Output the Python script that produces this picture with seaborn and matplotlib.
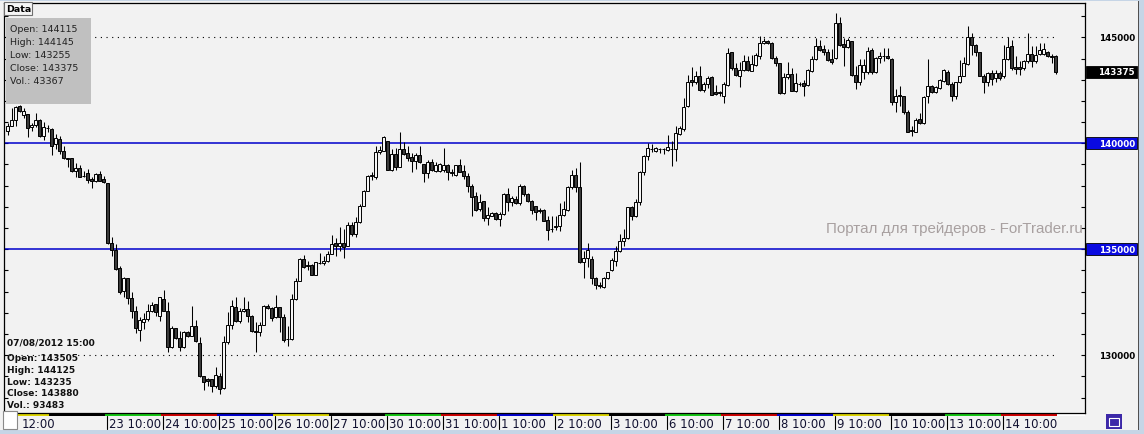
import numpy as np
import pandas as pd
import matplotlib
matplotlib.use("Agg")
import matplotlib.pyplot as plt
import matplotlib.transforms as mtrans
from matplotlib.patches import Rectangle
import seaborn as sns

# ---------------- data (hourly candles, RTS futures) ----------------
opens = [
    140597, 140833, 141100, 141744, 141351, 141383, 140785, 140864, 141100, 140361,
    140707, 140675, 139968, 140204, 139622, 139292, 139292, 138710, 138836, 138459,
    138585, 138317, 138207, 138553, 138317, 138113, 135283, 134982, 134118, 133049,
    133646, 132703, 132074, 131210, 131555, 131713, 132074, 132420, 131838, 132656,
    132074, 130376, 131288, 130801, 130376, 131084, 130927, 131398, 130565, 129009,
    128883, 128883, 128569, 129040, 128443, 130612, 131445, 132263, 131603, 132074,
    132184, 131838, 131162, 131084, 131445, 132341, 132232, 131791, 132263, 131791,
    130754, 130769, 132656, 133520, 134544, 134246, 134277, 133806, 134356, 134340,
    134466, 134780, 135283, 135173, 135283, 135173, 136148, 135723, 136274, 137028,
    137767, 138443, 138396, 139575, 139653, 140094, 138757, 139496, 138899, 139732,
    139528, 139339, 139182, 139449, 139009, 138600, 139135, 138710, 138710, 138757,
    138977, 138663, 138506, 138977, 138710, 138443, 137971, 137531, 136902, 137264,
    136462, 136588, 136698, 136431, 136667, 137610, 137248, 137374, 137170, 137971,
    137610, 137264, 137028, 136855, 136855, 136384, 135959, 136054, 136085, 136620,
    136871, 137924, 138506, 137924, 134387, 134576, 134544, 133633, 133302, 133239,
    133633, 134026, 134466, 134906, 135409, 135519, 136981, 136557, 137248, 138663,
    139417, 139717, 139654, 139749, 139733, 139702, 139749, 139733, 140440, 140677,
    141745, 142987, 142908, 143191, 142531, 142783, 143113, 142437, 142405, 142248,
    142767, 144292, 143537, 143191, 143474, 143867, 143427, 143694, 144103, 144716,
    144811, 144732, 144009, 143773, 142374, 143113, 143270, 142484, 142798, 142846,
    142751, 143427, 143977, 144575, 144449, 144323, 143977, 144009, 145675, 144685,
    144528, 144811, 143223, 142908, 143380, 143380, 144402, 143348, 144009, 144103,
    144103, 143977, 141965, 142280, 142217, 141462, 140629, 140550, 141148, 140943,
    142217, 142688, 142437, 142594, 142956, 143348, 142798, 142248, 142877, 143191,
    143742, 144999, 144638, 144292, 143160, 142908, 143317, 143066, 143317, 143160,
    143977, 144575, 143584, 143584, 143553, 143899, 144213, 143899, 144213, 144213,
    144323, 144119, 144115,
]
highs = [
    140943, 141650, 141776, 141807, 141666, 141383, 140943, 141414, 141147, 140990,
    140864, 140707, 140440, 140361, 139889, 139292, 139292, 139056, 138993, 138679,
    138805, 138396, 138600, 138710, 138474, 138113, 135598, 135250, 134228, 133709,
    133646, 133002, 132310, 131791, 131980, 132420, 132530, 132420, 132766, 133096,
    132530, 131398, 131288, 131162, 131162, 131162, 132310, 131666, 130848, 129009,
    128914, 128883, 129433, 129166, 130927, 132027, 132624, 132735, 132232, 132735,
    132577, 131901, 131587, 131555, 132373, 132420, 132263, 132844, 132263, 131948,
    131398, 132891, 133631, 134574, 134733, 134434, 134300, 134403, 134827, 134702,
    134937, 135676, 135519, 136038, 135959, 136274, 136305, 136510, 137138, 137814,
    138506, 138632, 139889, 139889, 140361, 140125, 139732, 139763, 140550, 140078,
    139858, 139543, 139543, 139889, 139025, 139229, 139261, 139103, 139056, 139763,
    139025, 138789, 138993, 139261, 138977, 138600, 138081, 137688, 137610, 137295,
    136981, 136745, 136777, 136777, 137641, 137877, 137500, 137531, 138081, 138034,
    137641, 137343, 137059, 136934, 136903, 136557, 136557, 136557, 137185, 137295,
    137971, 138757, 138836, 139135, 134937, 135299, 134670, 133680, 133475, 133680,
    133947, 134576, 135173, 135723, 135959, 137013, 137028, 137374, 138710, 139449,
    140015, 139968, 139812, 139780, 139780, 140393, 140126, 140802, 140834, 142123,
    143223, 143584, 143427, 143631, 142877, 143160, 143160, 142751, 142484, 142877,
    144481, 144323, 143789, 143820, 144166, 144135, 144166, 144260, 145046, 144952,
    144889, 144764, 144135, 143789, 143317, 143820, 143537, 143317, 142908, 142987,
    143506, 144135, 144952, 144889, 144638, 144449, 144449, 146147, 145943, 144952,
    144952, 144843, 143663, 143977, 143980, 144528, 144481, 144088, 144292, 144481,
    144481, 144009, 142563, 142688, 142248, 141572, 140834, 141179, 141431, 142248,
    143977, 142751, 142688, 143034, 143506, 143458, 142908, 142908, 143946, 144056,
    145549, 145204, 144685, 144323, 143270, 143380, 143474, 143474, 143427, 144638,
    144999, 144889, 144135, 143899, 143946, 145204, 144575, 144606, 144732, 144732,
    144370, 144213, 144145,
]
lows = [
    140408, 140833, 140833, 141461, 141194, 140314, 140597, 140754, 140314, 140172,
    140550, 139465, 139732, 139496, 139261, 138868, 138663, 138427, 138396, 138396,
    138113, 137893, 138160, 138239, 138129, 135250, 134700, 134039, 132892, 132734,
    132420, 131744, 131053, 130691, 131241, 131634, 132027, 131838, 131634, 132074,
    130172, 130329, 130769, 130219, 130329, 130848, 130896, 130643, 128962, 128380,
    128569, 128255, 128443, 128176, 128412, 130534, 131241, 131555, 131524, 132027,
    131587, 131084, 130141, 130927, 131430, 132184, 131634, 131744, 131084, 130612,
    130424, 130738, 132625, 133505, 134104, 134041, 133790, 133790, 134325, 134262,
    134419, 134780, 134702, 134937, 134592, 135173, 135645, 135566, 136243, 137028,
    137767, 138286, 138317, 139496, 139622, 138742, 138710, 138757, 138868, 139449,
    139182, 138663, 138789, 139072, 138191, 138364, 138710, 138632, 138663, 138663,
    138286, 138443, 138443, 138632, 138317, 137688, 136588, 136824, 136824, 136352,
    136164, 136557, 136399, 136116, 136636, 136824, 137059, 137138, 137091, 137531,
    137217, 136667, 136399, 136714, 136336, 135456, 135834, 135928, 135880, 136588,
    136824, 137846, 137720, 134356, 133648, 134151, 133365, 133129, 133161, 133161,
    133600, 133995, 134199, 134890, 135173, 135488, 136399, 136525, 137091, 138506,
    139229, 139606, 139607, 139544, 139497, 139654, 138947, 139183, 140393, 140598,
    141698, 142688, 142798, 142484, 142437, 142594, 142280, 142280, 142248, 141887,
    142688, 143474, 143160, 142641, 143427, 143427, 143411, 143631, 143977, 144685,
    144685, 143977, 143663, 142327, 142327, 143034, 142453, 142437, 142720, 142248,
    142688, 143380, 143946, 144370, 144166, 143899, 143726, 143977, 144606, 143663,
    144496, 143191, 142563, 142751, 143050, 143270, 143270, 143317, 143789, 143899,
    143977, 141808, 141462, 141777, 141384, 140519, 140362, 140519, 140912, 140912,
    141903, 142374, 142374, 142563, 142908, 142751, 142012, 142091, 142846, 143160,
    143711, 144166, 144135, 143160, 142374, 142688, 142751, 142877, 143003, 143066,
    143946, 143474, 143270, 143223, 143474, 143789, 143584, 143789, 144166, 144166,
    144056, 143789, 143255,
]
closes = [
    140833, 141100, 141729, 141509, 141540, 140707, 140880, 141100, 140361, 140754,
    140722, 139889, 140235, 139622, 139292, 139276, 138679, 138836, 138427, 138443,
    138270, 138207, 138553, 138239, 138160, 135283, 134982, 134071, 133002, 133646,
    132687, 132074, 131272, 131666, 131713, 132074, 132389, 132027, 132735, 132074,
    130376, 131288, 130801, 130376, 131115, 130927, 131398, 130659, 129009, 128757,
    128805, 128569, 129088, 128412, 130612, 131445, 132310, 131603, 132074, 132184,
    131838, 131162, 131084, 131445, 132341, 132247, 131744, 132263, 131791, 130738,
    130785, 132656, 133520, 134544, 134183, 134199, 133806, 134387, 134356, 134466,
    134780, 135252, 135173, 135283, 135126, 136148, 135723, 136274, 137028, 137767,
    138443, 138506, 139575, 139685, 140282, 138757, 139496, 138899, 139732, 139496,
    139308, 139182, 139449, 139103, 138600, 139135, 138742, 138977, 139025, 138977,
    138632, 138600, 138977, 138663, 138443, 137971, 137453, 136871, 137248, 136462,
    136620, 136698, 136431, 136667, 137610, 137248, 137405, 137170, 137971, 137610,
    137264, 136871, 136777, 136808, 136352, 135928, 135959, 136116, 136620, 136903,
    137956, 138506, 137924, 134387, 134576, 134985, 133633, 133318, 133271, 133633,
    133916, 134497, 134937, 135409, 135519, 136981, 136557, 137217, 138663, 139386,
    139763, 139749, 139765, 139717, 139733, 139812, 139717, 140472, 140708, 141698,
    142908, 142908, 143191, 142531, 142798, 143066, 142295, 142311, 142374, 142798,
    144260, 143537, 143223, 143474, 143867, 143458, 143742, 144166, 144732, 144811,
    144716, 144009, 143773, 142358, 143113, 143270, 142484, 142846, 142798, 142720,
    143458, 143977, 144575, 144418, 144323, 143946, 143820, 145675, 144653, 144528,
    144873, 143223, 142877, 143694, 143694, 144370, 143348, 144009, 144135, 144119,
    144009, 141934, 142248, 142217, 141462, 140550, 140582, 141116, 140959, 142201,
    142688, 142437, 142641, 142987, 143458, 142798, 142248, 142877, 143160, 143773,
    144999, 144638, 144292, 143191, 142908, 143317, 143034, 143317, 143066, 143977,
    144559, 143537, 143506, 143506, 143899, 144213, 143899, 144166, 144418, 144449,
    144103, 144088, 143375,
]

first_label = "12:00"
day_labels = ["23 10:00", "24 10:00", "25 10:00", "26 10:00", "27 10:00",
              "30 10:00", "31 10:00", "1 10:00", "2 10:00", "3 10:00",
              "6 10:00", "7 10:00", "8 10:00", "9 10:00", "10 10:00",
              "13 10:00", "14 10:00"]
YEL, BLK, GRN, RED, BLU = "#dcd400", "#000000", "#14c814", "#d00000", "#0000d0"
day_colors = [YEL, BLK,
              GRN, RED, BLU, YEL, BLK,
              GRN, RED, BLU, YEL, BLK,
              GRN, RED, BLU, YEL, BLK,
              GRN, RED]
blue_levels = [140000, 135000]
dotted_levels = [145000, 130000]
last_price = 143375
info_top = ["Open: 144115", "High: 144145", "Low: 143255", "Close: 143375", "Vol.: 43367"]
info_bottom_title = "07/08/2012 15:00"
info_bottom = ["Open: 143505", "High: 144125", "Low: 143235", "Close: 143880", "Vol.: 93483"]
watermark = "Портал для трейдеров - ForTrader.ru"

# ---------------- style ----------------
sns.set_theme(style="white")
plt.rcParams['font.family'] = ['DejaVu Sans']

W, H = 1144, 435
BG = "#f2f2f2"
fig = plt.figure(figsize=(W / 100, H / 100), dpi=100, facecolor=BG)


def fx(x):
    return x / W


def fy(y):
    return 1 - y / H


ax = fig.add_axes([fx(4), fy(414), 1081 / W, 410 / H])
ax.set_facecolor(BG)

df = pd.DataFrame({"o": opens, "h": highs, "l": lows, "c": closes})
df["i"] = np.arange(len(df))
n = len(df)
up = df["c"] >= df["o"]

# wicks and bodies
ax.vlines(df["i"], df["l"], df["h"], color="black", lw=0.75, zorder=3)
ax.bar(df["i"], (df["c"] - df["o"]).abs().clip(lower=1),
       bottom=df[["o", "c"]].min(axis=1), width=0.55,
       color=np.where(up, "#f6f6f6", "#3a3a3a"), edgecolor="black",
       linewidth=0.7, zorder=4)

ax.set_xlim(-0.875, 269.375)
ax.set_ylim(127278, 146618)
ax.set_xticks([])
ax.set_yticks(np.arange(128000, 146001, 1000))
ax.tick_params(axis="y", direction="in", left=True, right=True, length=3,
               width=0.8, color="black", labelleft=False, labelright=False)
for s in ax.spines.values():
    s.set_color("black")
    s.set_linewidth(0.9)

# dot grid
day_first = np.arange(11, n, 14)
grid_lv = [v for v in range(128000, 146001, 1000) if v % 5000 != 0]
gx, gy = np.meshgrid(day_first, grid_lv)
ax.scatter(gx.ravel(), gy.ravel(), s=0.45, marker="s", color="black",
           linewidths=0, zorder=1)

# dotted horizontal lines
ax.hlines(dotted_levels, -0.875, n - 0.4, colors="black", lw=0.8,
          linestyles=(0, (1, 4.1)), zorder=1)

# blue support/resistance lines
for lv in blue_levels:
    ax.axhline(lv, color="#0000cc", lw=1.1, zorder=2)

# right price labels
tr_r = mtrans.blended_transform_factory(ax.transAxes, ax.transData)
pp = 47.17  # price per pixel
for lv in dotted_levels:
    ax.text(1.0463, lv, str(lv), transform=tr_r, ha="right", va="center",
            fontsize=6.3, fontweight="bold", color="black", clip_on=False)
for lv, fc in [(last_price, "black")] + [(b, "#0a0ae0") for b in blue_levels]:
    ax.add_patch(Rectangle((1.0009, lv - 5.8 * pp), 0.0472, 11.6 * pp,
                           transform=tr_r, facecolor=fc, edgecolor="black",
                           lw=0.6, clip_on=False, zorder=5))
    ax.text(1.0463, lv, str(lv), transform=tr_r, ha="right", va="center",
            fontsize=6.3, fontweight="bold", color="white", clip_on=False,
            zorder=6)

# watermark
ax.text(1 - 2 / 1081, 0.4524, watermark, transform=ax.transAxes, ha="right",
        va="center", fontsize=10.9, color="#a8a0a0",
        family=["Liberation Sans", "DejaVu Sans"], zorder=2)

# bottom time axis: day color strip, ticks and labels
tr_b = mtrans.blended_transform_factory(ax.transData, ax.transAxes)
seg_edges = [2.6] + [10.4 + 14 * k for k in range(len(day_colors))]
for k, col in enumerate(day_colors):
    ax.add_patch(Rectangle((seg_edges[k], -0.0075), seg_edges[k + 1] - seg_edges[k],
                           0.0052, transform=tr_b, facecolor=col, edgecolor="none",
                           clip_on=False))
ax.add_patch(Rectangle((seg_edges[-1], -0.0075), 269.375 - seg_edges[-1], 0.0052,
                       transform=tr_b, facecolor="white", edgecolor="none",
                       clip_on=False))
day_ticks = np.arange(25, n, 14)
for t, lab in zip(day_ticks, day_labels):
    ax.plot([t - 0.125, t - 0.125], [-0.0075, -0.039], transform=tr_b,
            color="black", lw=0.8, clip_on=False)
    ax.text(t + 0.35, -0.0245, lab, transform=tr_b, ha="left", va="center",
            fontsize=8.4, color="#101030", clip_on=False)
ax.text(3.6, -0.0245, first_label, transform=tr_b, ha="left", va="center",
        fontsize=8.4, color="#101030", clip_on=False)

# ---------------- window decorations ----------------
def frect(x0, y0, x1, y1, **kw):
    r = Rectangle((fx(x0), fy(y1)), fx(x1) - fx(x0), (y1 - y0) / H,
                  transform=fig.transFigure, **kw)
    fig.add_artist(r)
    return r


frame = "#c6d5e6"
frect(0, 0, W, 2, facecolor=frame, edgecolor="none", zorder=8)
frect(0, 431, W, H, facecolor=frame, edgecolor="none", zorder=8)
frect(1139, 0, W, H, facecolor=frame, edgecolor="none", zorder=8)
frect(1137.5, 2, 1138.5, 431, facecolor="#505050", edgecolor="none", zorder=8)

# "Data" tab
frect(4, 3, 32, 16, facecolor="#f6f6f6", edgecolor="#707070", lw=0.8, zorder=8)
fig.text(fx(6), fy(9.5), "Data", fontsize=6.8, fontweight="bold",
         color="black", va="center", ha="left", zorder=9)

# top info box
frect(6, 19, 91, 105, facecolor="#c0c0c0", edgecolor="none", zorder=8)
for k, s in enumerate(info_top):
    fig.text(fx(10.5), fy(30 + 12.75 * k), s, fontsize=6.8, color="#222222",
             va="center", ha="left", zorder=9)

# bottom-left info text
fig.text(fx(7.3), fy(342.7), info_bottom_title, fontsize=6.5,
         fontweight="bold", color="#111111", va="center", ha="left", zorder=9)
for k, s in enumerate(info_bottom):
    fig.text(fx(7.3), fy(358.3 + 11.9 * k), s, fontsize=6.5,
             fontweight="bold", color="#111111", va="center", ha="left",
             zorder=9)

# small widgets at the bottom corners
frect(3, 412, 17, 430, facecolor="white", edgecolor="#8a8a8a", lw=0.8, zorder=8)
frect(1106, 415, 1122, 430, facecolor="#3c28a8", edgecolor="none", zorder=8)
frect(1109, 418.5, 1119, 426.5, facecolor="none", edgecolor="white", lw=0.8,
      zorder=9)

fig.savefig("out.png", dpi=100, facecolor=BG)
